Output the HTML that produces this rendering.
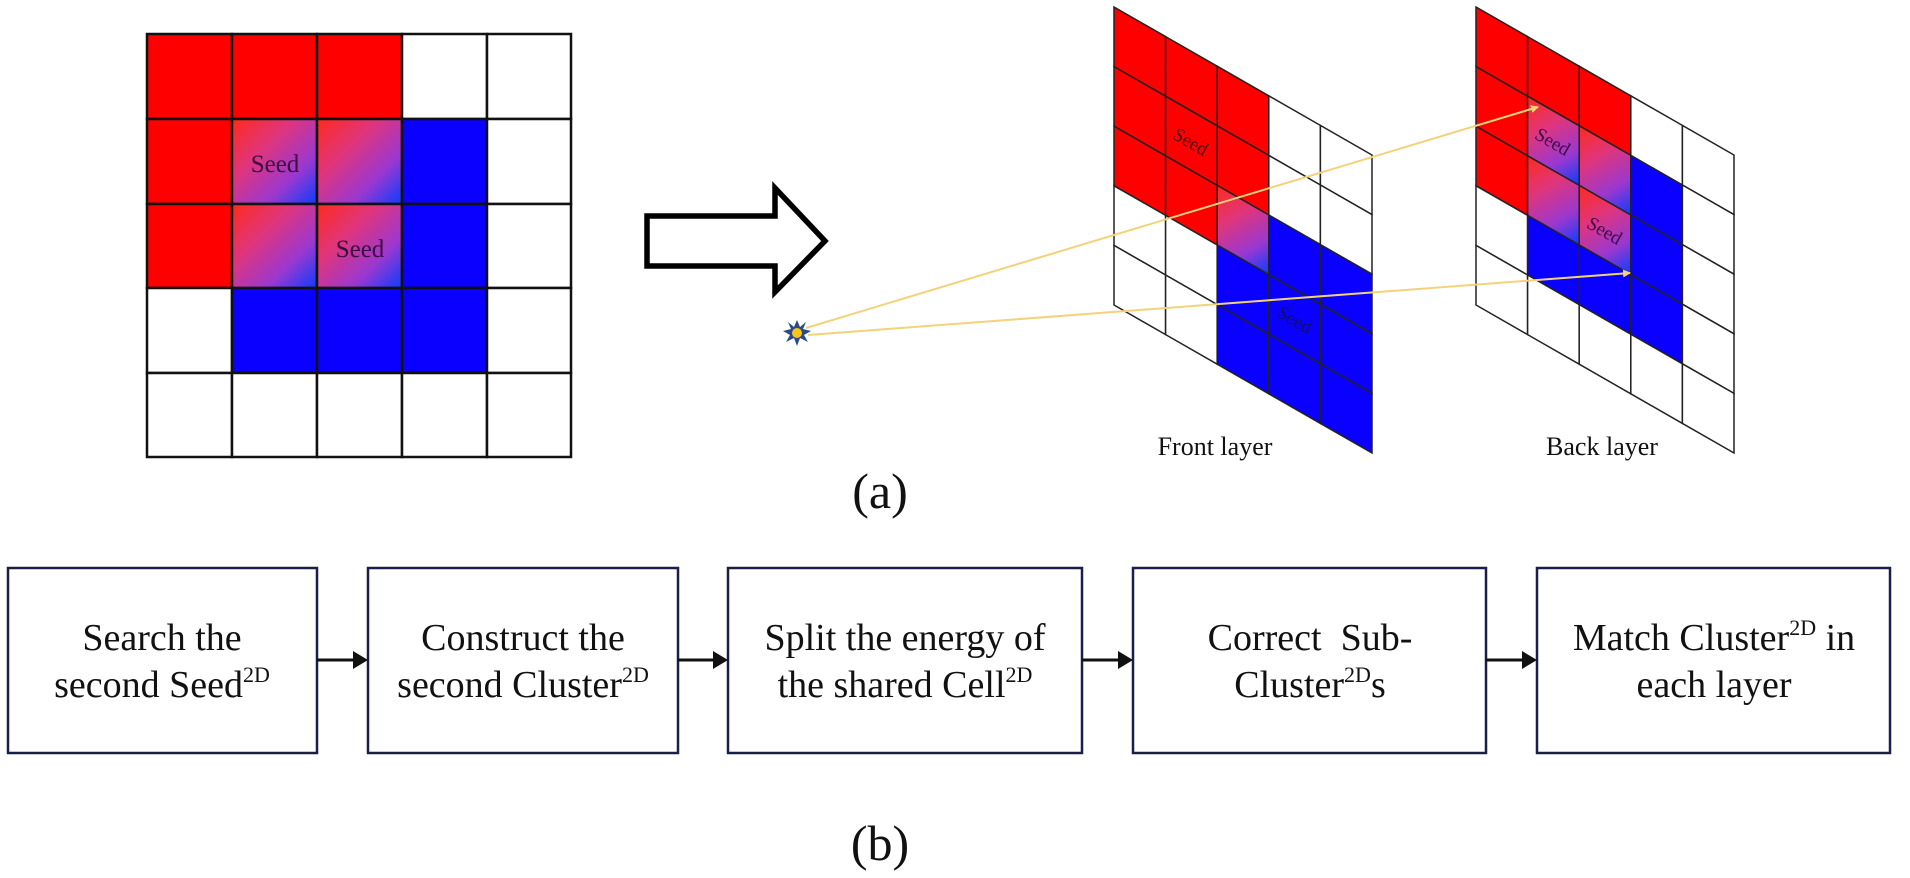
<!DOCTYPE html>
<html><head><meta charset="utf-8"><style>
html,body{margin:0;padding:0;background:#fff;width:1910px;height:878px;overflow:hidden}
svg{display:block}
text{font-family:"Liberation Serif",serif;fill:#111}
</style></head><body>
<svg width="1910" height="878" viewBox="0 0 1910 878" xmlns="http://www.w3.org/2000/svg">
<defs>
<linearGradient id="g" x1="0" y1="0" x2="1" y2="1">
<stop offset="0" stop-color="#ff2a1a"/>
<stop offset="0.35" stop-color="#e0357a"/>
<stop offset="0.7" stop-color="#9a38d0"/>
<stop offset="1" stop-color="#0a3cff"/>
</linearGradient>
<marker id="ya" markerWidth="8" markerHeight="8" refX="7" refY="4" orient="auto" markerUnits="userSpaceOnUse"><path d="M0,0 L8,4 L0,8 Z" fill="#f2d37a"/></marker>
</defs>

<!-- Left grid -->
<g stroke="#111" stroke-width="2.5">
<!-- row 0 -->
<rect x="147" y="34" width="85" height="85" fill="#ff0000"/>
<rect x="232" y="34" width="85" height="85" fill="#ff0000"/>
<rect x="317" y="34" width="85" height="85" fill="#ff0000"/>
<rect x="402" y="34" width="85" height="85" fill="#fff"/>
<rect x="487" y="34" width="84" height="85" fill="#fff"/>
<!-- row 1 -->
<rect x="147" y="119" width="85" height="85" fill="#ff0000"/>
<rect x="232" y="119" width="85" height="85" fill="url(#g)"/>
<rect x="317" y="119" width="85" height="85" fill="url(#g)"/>
<rect x="402" y="119" width="85" height="85" fill="#0a00ff"/>
<rect x="487" y="119" width="84" height="85" fill="#fff"/>
<!-- row 2 -->
<rect x="147" y="204" width="85" height="84" fill="#ff0000"/>
<rect x="232" y="204" width="85" height="84" fill="url(#g)"/>
<rect x="317" y="204" width="85" height="84" fill="url(#g)"/>
<rect x="402" y="204" width="85" height="84" fill="#0a00ff"/>
<rect x="487" y="204" width="84" height="84" fill="#fff"/>
<!-- row 3 -->
<rect x="147" y="288" width="85" height="85" fill="#fff"/>
<rect x="232" y="288" width="85" height="85" fill="#0a00ff"/>
<rect x="317" y="288" width="85" height="85" fill="#0a00ff"/>
<rect x="402" y="288" width="85" height="85" fill="#0a00ff"/>
<rect x="487" y="288" width="84" height="85" fill="#fff"/>
<!-- row 4 -->
<rect x="147" y="373" width="85" height="84" fill="#fff"/>
<rect x="232" y="373" width="85" height="84" fill="#fff"/>
<rect x="317" y="373" width="85" height="84" fill="#fff"/>
<rect x="402" y="373" width="85" height="84" fill="#fff"/>
<rect x="487" y="373" width="84" height="84" fill="#fff"/>
</g>
<text x="275" y="172" font-size="25" text-anchor="middle" style="fill:#3a0a40">Seed</text>
<text x="360" y="257" font-size="25" text-anchor="middle" style="fill:#3a0a40">Seed</text>

<!-- Hollow arrow -->
<path d="M647,216 L775,216 L775,188 L825,241 L775,292 L775,266 L647,266 Z" fill="#fff" stroke="#000" stroke-width="5.5" stroke-linejoin="miter"/>

<!-- Front layer -->
<g transform="matrix(51.6,29.6,0,59.6,1114,7)" stroke="#222" stroke-width="1.5">
<g vector-effect="non-scaling-stroke">
<rect x="0" y="0" width="1" height="1" fill="#ff0000" vector-effect="non-scaling-stroke"/>
<rect x="0" y="1" width="1" height="1" fill="#ff0000" vector-effect="non-scaling-stroke"/>
<rect x="0" y="2" width="1" height="1" fill="#ff0000" vector-effect="non-scaling-stroke"/>
<rect x="0" y="3" width="1" height="1" fill="#fff" vector-effect="non-scaling-stroke"/>
<rect x="0" y="4" width="1" height="1" fill="#fff" vector-effect="non-scaling-stroke"/>
<rect x="1" y="0" width="1" height="1" fill="#ff0000" vector-effect="non-scaling-stroke"/>
<rect x="1" y="1" width="1" height="1" fill="#ff0000" vector-effect="non-scaling-stroke"/>
<rect x="1" y="2" width="1" height="1" fill="#ff0000" vector-effect="non-scaling-stroke"/>
<rect x="1" y="3" width="1" height="1" fill="#fff" vector-effect="non-scaling-stroke"/>
<rect x="1" y="4" width="1" height="1" fill="#fff" vector-effect="non-scaling-stroke"/>
<rect x="2" y="0" width="1" height="1" fill="#ff0000" vector-effect="non-scaling-stroke"/>
<rect x="2" y="1" width="1" height="1" fill="#ff0000" vector-effect="non-scaling-stroke"/>
<rect x="2" y="2" width="1" height="1" fill="url(#g)" vector-effect="non-scaling-stroke"/>
<rect x="2" y="3" width="1" height="1" fill="#0a00ff" vector-effect="non-scaling-stroke"/>
<rect x="2" y="4" width="1" height="1" fill="#0a00ff" vector-effect="non-scaling-stroke"/>
<rect x="3" y="0" width="1" height="1" fill="#fff" vector-effect="non-scaling-stroke"/>
<rect x="3" y="1" width="1" height="1" fill="#fff" vector-effect="non-scaling-stroke"/>
<rect x="3" y="2" width="1" height="1" fill="#0a00ff" vector-effect="non-scaling-stroke"/>
<rect x="3" y="3" width="1" height="1" fill="#0a00ff" vector-effect="non-scaling-stroke"/>
<rect x="3" y="4" width="1" height="1" fill="#0a00ff" vector-effect="non-scaling-stroke"/>
<rect x="4" y="0" width="1" height="1" fill="#fff" vector-effect="non-scaling-stroke"/>
<rect x="4" y="1" width="1" height="1" fill="#fff" vector-effect="non-scaling-stroke"/>
<rect x="4" y="2" width="1" height="1" fill="#0a00ff" vector-effect="non-scaling-stroke"/>
<rect x="4" y="3" width="1" height="1" fill="#0a00ff" vector-effect="non-scaling-stroke"/>
<rect x="4" y="4" width="1" height="1" fill="#0a00ff" vector-effect="non-scaling-stroke"/>
</g></g>
<text x="1191" y="148" font-size="19" text-anchor="middle" transform="rotate(29.8 1191 141)" style="fill:#4a0a0a">Seed</text>
<text x="1295" y="326" font-size="19" text-anchor="middle" transform="rotate(29.8 1295 319)" style="fill:#101060">Seed</text>

<!-- Back layer -->
<g transform="matrix(51.6,29.6,0,59.6,1476,7)" stroke="#222" stroke-width="1.5">
<rect x="0" y="0" width="1" height="1" fill="#ff0000" vector-effect="non-scaling-stroke"/>
<rect x="0" y="1" width="1" height="1" fill="#ff0000" vector-effect="non-scaling-stroke"/>
<rect x="0" y="2" width="1" height="1" fill="#ff0000" vector-effect="non-scaling-stroke"/>
<rect x="0" y="3" width="1" height="1" fill="#fff" vector-effect="non-scaling-stroke"/>
<rect x="0" y="4" width="1" height="1" fill="#fff" vector-effect="non-scaling-stroke"/>
<rect x="1" y="0" width="1" height="1" fill="#ff0000" vector-effect="non-scaling-stroke"/>
<rect x="1" y="1" width="1" height="1" fill="url(#g)" vector-effect="non-scaling-stroke"/>
<rect x="1" y="2" width="1" height="1" fill="url(#g)" vector-effect="non-scaling-stroke"/>
<rect x="1" y="3" width="1" height="1" fill="#0a00ff" vector-effect="non-scaling-stroke"/>
<rect x="1" y="4" width="1" height="1" fill="#fff" vector-effect="non-scaling-stroke"/>
<rect x="2" y="0" width="1" height="1" fill="#ff0000" vector-effect="non-scaling-stroke"/>
<rect x="2" y="1" width="1" height="1" fill="url(#g)" vector-effect="non-scaling-stroke"/>
<rect x="2" y="2" width="1" height="1" fill="url(#g)" vector-effect="non-scaling-stroke"/>
<rect x="2" y="3" width="1" height="1" fill="#0a00ff" vector-effect="non-scaling-stroke"/>
<rect x="2" y="4" width="1" height="1" fill="#fff" vector-effect="non-scaling-stroke"/>
<rect x="3" y="0" width="1" height="1" fill="#fff" vector-effect="non-scaling-stroke"/>
<rect x="3" y="1" width="1" height="1" fill="#0a00ff" vector-effect="non-scaling-stroke"/>
<rect x="3" y="2" width="1" height="1" fill="#0a00ff" vector-effect="non-scaling-stroke"/>
<rect x="3" y="3" width="1" height="1" fill="#0a00ff" vector-effect="non-scaling-stroke"/>
<rect x="3" y="4" width="1" height="1" fill="#fff" vector-effect="non-scaling-stroke"/>
<rect x="4" y="0" width="1" height="1" fill="#fff" vector-effect="non-scaling-stroke"/>
<rect x="4" y="1" width="1" height="1" fill="#fff" vector-effect="non-scaling-stroke"/>
<rect x="4" y="2" width="1" height="1" fill="#fff" vector-effect="non-scaling-stroke"/>
<rect x="4" y="3" width="1" height="1" fill="#fff" vector-effect="non-scaling-stroke"/>
<rect x="4" y="4" width="1" height="1" fill="#fff" vector-effect="non-scaling-stroke"/>
</g>
<text x="1553" y="148" font-size="19" text-anchor="middle" transform="rotate(29.8 1553 141)" style="fill:#3a0a50">Seed</text>
<text x="1605" y="237" font-size="19" text-anchor="middle" transform="rotate(29.8 1605 230)" style="fill:#3a0a50">Seed</text>

<!-- Yellow rays -->
<line x1="806" y1="328" x2="1538" y2="107" stroke="#f2d37a" stroke-width="2" marker-end="url(#ya)"/>
<line x1="808" y1="335" x2="1630" y2="273" stroke="#f2d37a" stroke-width="2" marker-end="url(#ya)"/>
<!-- star -->
<polygon points="797,320 800,327 806,322 803,329 811,331 804,335 808,342 800,338 797,346 794,338 786,342 790,335 783,331 791,329 788,322 794,327" fill="#2a4a8a"/>
<circle cx="797" cy="333" r="5" fill="#f5c518"/>

<text x="1215" y="455" font-size="26" text-anchor="middle">Front layer</text>
<text x="1602" y="455" font-size="26" text-anchor="middle">Back layer</text>
<text x="880" y="508" font-size="50" text-anchor="middle">(a)</text>

<!-- Flow boxes -->
<g fill="#fff" stroke="#1a1f48" stroke-width="2.5">
<rect x="8" y="568" width="309" height="185"/>
<rect x="368" y="568" width="310" height="185"/>
<rect x="728" y="568" width="354" height="185"/>
<rect x="1133" y="568" width="353" height="185"/>
<rect x="1537" y="568" width="353" height="185"/>
</g>
<g stroke="#111" stroke-width="3">
<line x1="317" y1="660" x2="356" y2="660"/>
<line x1="678" y1="660" x2="716" y2="660"/>
<line x1="1082" y1="660" x2="1121" y2="660"/>
<line x1="1486" y1="660" x2="1525" y2="660"/>
</g>
<g fill="#111">
<path d="M353,651 L368,660 L353,669 Z"/>
<path d="M713,651 L728,660 L713,669 Z"/>
<path d="M1118,651 L1133,660 L1118,669 Z"/>
<path d="M1522,651 L1537,660 L1522,669 Z"/>
</g>
<g font-size="38" text-anchor="middle">
<text x="162" y="650">Search the</text>
<text x="162" y="697">second Seed<tspan font-size="22" dy="-15">2D</tspan></text>
<text x="523" y="650">Construct the</text>
<text x="523" y="697">second Cluster<tspan font-size="22" dy="-15">2D</tspan></text>
<text x="905" y="650">Split the energy of</text>
<text x="905" y="697">the shared Cell<tspan font-size="22" dy="-15">2D</tspan></text>
<text x="1310" y="650" xml:space="preserve">Correct  Sub-</text>
<text x="1310" y="697">Cluster<tspan font-size="22" dy="-15">2D</tspan><tspan dy="15">s</tspan></text>
<text x="1714" y="650">Match Cluster<tspan font-size="22" dy="-15">2D</tspan><tspan dy="15"> in</tspan></text>
<text x="1714" y="697">each layer</text>
</g>
<text x="880" y="860" font-size="50" text-anchor="middle">(b)</text>
</svg>
</body></html>
